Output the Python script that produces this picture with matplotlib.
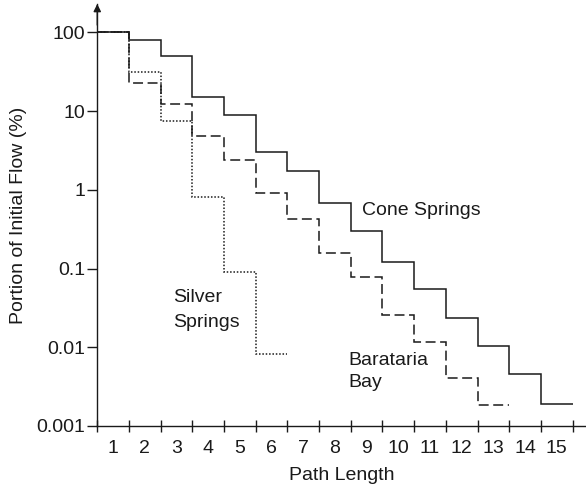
import numpy as np
import matplotlib
matplotlib.use("Agg")
import matplotlib.pyplot as plt

plt.rcParams['font.family'] = ['Liberation Sans', 'DejaVu Sans']

path_lengths = list(range(1, 16))
cone_springs = [100, 80, 50, 15.3, 8.9, 3.06, 1.74, 0.68, 0.30, 0.121, 0.055, 0.0233, 0.0104, 0.00458, 0.0019]
barataria_bay = [100, 23, 12.3, 4.9, 2.42, 0.92, 0.43, 0.158, 0.079, 0.026, 0.0116, 0.0041, 0.00185]
silver_springs = [100, 31, 7.6, 0.82, 0.09, 0.0081]
y_ticks = [0.001, 0.01, 0.1, 1, 10, 100]
y_tick_labels = ['0.001', '0.01', '0.1', '1', '10', '100']

col = '#1a1a1a'
fs = 14
fig = plt.figure(figsize=(5.86, 4.91), dpi=100)
ax = fig.add_axes([0.166, 0.1324, 0.8328, 0.8595])
ax.set_yscale('log')

def edges(v):
    return np.arange(len(v) + 1) + 0.5

ax.stairs(cone_springs, edges(cone_springs), baseline=None, color=col, lw=1.1)
ax.stairs(barataria_bay, edges(barataria_bay), baseline=None, color=col, lw=1.1,
          linestyle=(0, (6.5, 3)))
ax.stairs(silver_springs, edges(silver_springs), baseline=None, color=col, lw=1.1,
          linestyle=(0, (1.0, 1.2)))

ax.set_xlim(0.5, 15.9)
ax.set_ylim(0.001, 230)

for s in ['top', 'right']:
    ax.spines[s].set_visible(False)
for s in ['left', 'bottom']:
    ax.spines[s].set_color(col)
    ax.spines[s].set_linewidth(1.0)

ax.set_xticks(np.arange(0.5, 16.0, 1.0))
ax.set_xticklabels([])
ax.set_xticks(path_lengths, minor=True)
ax.set_xticklabels([str(p) for p in path_lengths], minor=True)
ax.tick_params(axis='x', which='major', direction='inout', length=8, width=1, color=col)
ax.tick_params(axis='x', which='minor', length=0, pad=10, labelsize=fs, labelcolor=col)

ax.set_yticks(y_ticks)
ax.set_yticklabels(y_tick_labels)
ax.yaxis.set_minor_locator(matplotlib.ticker.NullLocator())
ax.tick_params(axis='y', which='major', direction='out', length=7, width=1, color=col,
               pad=1.5, labelsize=fs, labelcolor=col)

ax.set_xlabel('Path Length', fontsize=fs, color=col, labelpad=7)
ax.set_ylabel('Portion of Initial Flow (%)', fontsize=fs, color=col, labelpad=7)

ax.annotate('', xy=(0, 1.0), xytext=(0, 0.95), xycoords='axes fraction',
            arrowprops=dict(arrowstyle='-|>', color=col, lw=1, mutation_scale=11,
                            shrinkA=0, shrinkB=0))

ax.text(8.85, 0.54, 'Cone Springs', fontsize=fs, color=col, ha='left', va='center')
ax.text(2.89, 0.030, 'Silver\nSprings', fontsize=fs, color=col, ha='left', va='center',
        linespacing=1.6)
ax.text(8.41, 0.0049, 'Barataria\nBay', fontsize=fs, color=col, ha='left', va='center',
        linespacing=1.35)

fig.savefig('out.png', dpi=100)
